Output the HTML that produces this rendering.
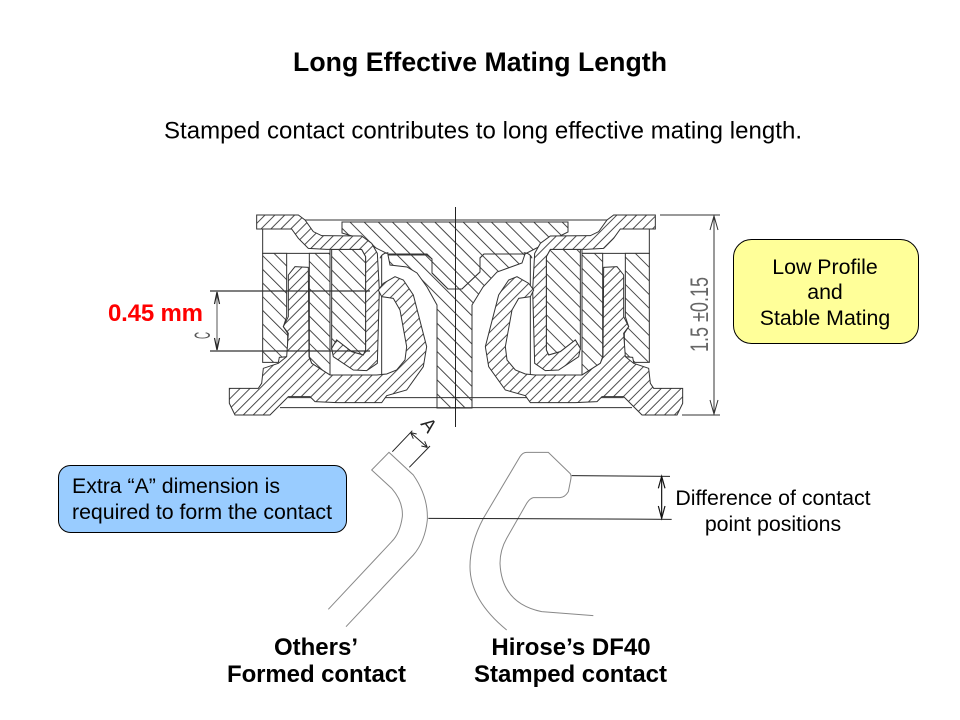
<!DOCTYPE html>
<html><head><meta charset="utf-8"><style>
html,body{margin:0;padding:0;background:#fff;width:960px;height:720px;overflow:hidden}
svg{display:block}
text{font-family:"Liberation Sans",sans-serif;fill:#000}
.b{font-weight:bold}
</style></head><body>
<svg width="960" height="720" viewBox="0 0 960 720" xmlns="http://www.w3.org/2000/svg">
<defs>
<pattern id="t" width="10" height="10" patternUnits="userSpaceOnUse" patternTransform="rotate(-45)"><rect width="10" height="10" fill="#fff"/><rect width="0.9" height="10" fill="#333"/></pattern>
<pattern id="lf" width="21" height="21" patternUnits="userSpaceOnUse" patternTransform="rotate(45)"><rect width="21" height="21" fill="#fff"/><rect width="2.6" height="21" fill="#333"/></pattern>
<pattern id="lb" width="29" height="29" patternUnits="userSpaceOnUse" patternTransform="rotate(-45)"><rect width="29" height="29" fill="#fff"/><rect width="2.6" height="29" fill="#333"/></pattern>
<pattern id="rf" width="21" height="21" patternUnits="userSpaceOnUse" patternTransform="rotate(-45)"><rect width="21" height="21" fill="#fff"/><rect width="2.6" height="21" fill="#333"/></pattern>
<pattern id="rb" width="29" height="29" patternUnits="userSpaceOnUse" patternTransform="rotate(45)"><rect width="29" height="29" fill="#fff"/><rect width="2.6" height="29" fill="#333"/></pattern>
<g id="contacts">
<path d="M110 45L235 45L255 60L280 95L305 107L425 108L455 130L472 160L478 270L472 490L440 512L400 510L340 470L335 445L350 420L395 455L430 465L437 450L437 170L425 148L320 148L265 145L235 115L215 87L110 87Z"/>
<path d="M28 565L115 565L125 550L130 505L175 490L200 470L205 400L190 380L205 350L205 225L225 200L265 202L267 470L275 490L330 525L470 525L500 522L530 510L555 480L560 440L540 330L520 295L485 290L475 270L490 250L525 230L550 240L580 285L620 440L610 500L560 570L500 587L485 608L350 608L285 605L270 590L205 590L150 645L45 645L28 610Z"/>
</g>
<g id="blocks">
<path d="M128 160L200 160L200 350L190 380L203 400L203 470L178 472L175 487L128 487Z"/>
<path d="M268 160L330 160L330 525L275 490L268 470Z"/>
<path d="M335 148L425 148L437 170L437 450L430 465L395 455L350 420L335 445Z"/>
</g>
<g id="lines">
<path d="M128 88V160H330M250 60H720M180 623H720M205 593H290M352 593H720M330 148V525H470M485 165V530M480 175Q485 160 505 158" fill="none"/>
</g>
</defs>

<text x="293" y="71" font-size="26.67" class="b" textLength="374" lengthAdjust="spacing">Long Effective Mating Length</text>
<text x="164" y="138.5" font-size="24" textLength="638" lengthAdjust="spacing">Stamped contact contributes to long effective mating length.</text>

<!-- central pieces -->
<g stroke="#333" stroke-width="1">
<path d="M342 222H568V232L560 236L525 254H484L480 258V272L462 289H448L432 273V259L427 254H388L352 236L342 233Z" fill="url(#t)"/>
<path d="M388 255H427L432 259V273L448 289H462L480 272V258L484 254H525L522 263L497 272L483 287L472 305V408H437V305L427 287L417 273L407 267L390 265Z" fill="url(#t)"/>
</g>

<!-- left half -->
<g transform="translate(220 200) scale(.33333)" stroke="#333" stroke-width="3">
<use href="#lines"/>
<use href="#blocks" fill="url(#lb)"/>
<use href="#contacts" fill="url(#lf)"/>
</g>
<!-- right half -->
<g transform="translate(692 200) scale(-.33333 .33333)" stroke="#333" stroke-width="3">
<use href="#lines"/>
<use href="#blocks" fill="url(#rb)"/>
<use href="#contacts" fill="url(#rf)"/>
</g>

<!-- centre line -->
<path d="M455.5 207V427" stroke="#222" stroke-width="1" fill="none"/>

<!-- dimensions left -->
<path d="M210 291H370M210 351H370" stroke="#333" stroke-width="1.2" fill="none"/>
<path d="M217 292V350" stroke="#555" stroke-width="1" fill="none"/>
<path d="M214.5 304L217 292L219.5 304M214.5 338L217 350L219.5 338" stroke="#222" stroke-width="1.2" fill="none"/>
<text transform="translate(210 339) rotate(-90)" font-size="22" style="fill:#555" textLength="7" lengthAdjust="spacingAndGlyphs">C</text>

<!-- dimension right -->
<path d="M660 215H720M682 415H720M714 216V414" stroke="#333" stroke-width="1" fill="none"/>
<path d="M710 230L714 216L718 230M710 400L714 414L718 400" stroke="#333" stroke-width="1" fill="none"/>
<text transform="translate(708 352) rotate(-90)" font-size="25" style="fill:#666" textLength="75" lengthAdjust="spacingAndGlyphs">1.5 ±0.15</text>

<text x="108" y="321" font-size="24" class="b" style="fill:#f00" textLength="95" lengthAdjust="spacing">0.45 mm</text>

<!-- yellow box -->
<rect x="733.5" y="239.5" width="185" height="104" rx="18" fill="#ffff99" stroke="#000" stroke-width="1"/>
<text x="825" y="274" font-size="21.33" text-anchor="middle">Low Profile</text>
<text x="825" y="299" font-size="21.33" text-anchor="middle">and</text>
<text x="825" y="325" font-size="21.33" text-anchor="middle">Stable Mating</text>

<!-- blue box -->
<rect x="58.5" y="465.5" width="288" height="67" rx="12" fill="#99ccff" stroke="#000" stroke-width="1"/>
<text x="72" y="493" font-size="21.33" textLength="208" lengthAdjust="spacing">Extra “A” dimension is</text>
<text x="72" y="519" font-size="21.33" textLength="260" lengthAdjust="spacing">required to form the contact</text>

<!-- contact detail -->
<g transform="translate(320 410) scale(.33333)" fill="none">
<g stroke="#888" stroke-width="3">
<path d="M25 598L215 395Q240 370 247 320Q250 275 215 235L155 180L207 127L280 195Q325 260 322 330Q315 395 280 435L78 650"/>
<path d="M560 660Q450 570 450 470Q450 400 490 325L600 140Q608 127 620 127L685 127L750 190Q755 195 752 210L745 245Q735 262 720 263L640 263Q630 265 620 280L560 385Q540 420 540 460Q545 580 665 605L820 617"/>
</g>
<g stroke="#222" stroke-width="3">
<path d="M217 125L277 62M268 172L330 108M272 68L322 112"/>
<path d="M272 68L290 72M272 68L280 86M322 112L304 108M322 112L314 94"/>
<path d="M755 197L1050 199M325 325L1055 328"/>
</g>
<path d="M1025 199V325" stroke="#111" stroke-width="3.5"/>
<path d="M1015 235L1025 199L1035 235M1015 288L1025 325L1035 288" stroke="#111" stroke-width="3.5"/>
</g>
<text transform="translate(420 424) rotate(52)" font-size="19" style="fill:#222">A</text>

<text x="773" y="505" font-size="21.33" text-anchor="middle">Difference of contact</text>
<text x="773" y="531" font-size="21.33" text-anchor="middle">point positions</text>

<text x="316" y="655" font-size="24" class="b" text-anchor="middle">Others’</text>
<text x="227" y="682" font-size="24" class="b" textLength="179" lengthAdjust="spacing">Formed contact</text>
<text x="571" y="655" font-size="24" class="b" text-anchor="middle">Hirose’s DF40</text>
<text x="474" y="682" font-size="24" class="b" textLength="193" lengthAdjust="spacing">Stamped contact</text>
</svg>
</body></html>
